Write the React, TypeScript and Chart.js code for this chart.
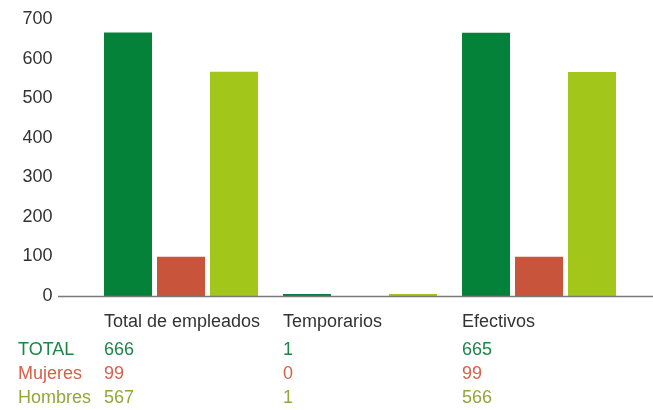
import React, { useEffect, useRef } from "react";
import { Chart, registerables } from "chart.js";

Chart.register(...registerables);

const categories = ["Total de empleados", "Temporarios", "Efectivos"];
const seriesNames = ["TOTAL", "Mujeres", "Hombres"];
const totalValues = [666, 1, 665];
const mujeresValues = [99, 0, 99];
const hombresValues = [567, 1, 566];
const yTicks = [0, 100, 200, 300, 400, 500, 600, 700];

const barColors = ["#048239", "#C9543C", "#A3C61A"];
const textColors = ["#1D8548", "#D6614B", "#8FA936"];
const FONT = "'Liberation Sans', Arial, Helvetica, sans-serif";

const tablePlugin = {
  id: "tablePlugin",
  afterDatasetsDraw(chart: any) {
    const ctx = chart.ctx;
    const yScale = chart.scales.y;
    const y0 = yScale.getPixelForValue(0);
    ctx.save();
    ctx.strokeStyle = "#7a7a7a";
    ctx.lineWidth = 1.5;
    ctx.beginPath();
    ctx.moveTo(58, y0 + 0.6);
    ctx.lineTo(653, y0 + 0.6);
    ctx.stroke();

    const meta = chart.getDatasetMeta(0);
    const colX = categories.map((_, i) => {
      const el = meta.data[i];
      return el.x - el.width / 2;
    });
    const allSeries = [totalValues, mujeresValues, hombresValues];
    ctx.font = `18px ${FONT}`;
    ctx.textBaseline = "middle";
    ctx.textAlign = "left";
    ctx.fillStyle = "#333333";
    categories.forEach((c, i) => ctx.fillText(c, colX[i], y0 + 26));
    seriesNames.forEach((name, r) => {
      const y = y0 + 54 + r * 24;
      ctx.fillStyle = textColors[r];
      ctx.fillText(name, 18, y);
      allSeries[r].forEach((v, i) => ctx.fillText(String(v), colX[i], y));
    });
    ctx.restore();
  },
};

export default function App() {
  const ref = useRef<HTMLCanvasElement | null>(null);
  useEffect(() => {
    document.body.style.margin = "0";
    if (!ref.current) return;
    const chart = new Chart(ref.current, {
      type: "bar",
      data: {
        labels: categories,
        datasets: [totalValues, mujeresValues, hombresValues].map((d, i) => ({
          label: seriesNames[i],
          data: d,
          backgroundColor: barColors[i],
          borderWidth: 0,
          categoryPercentage: 0.888,
          barPercentage: 0.906,
          minBarLength: i === 1 ? 0 : 2,
        })),
      },
      options: {
        responsive: false,
        animation: false,
        devicePixelRatio: 1,
        layout: { padding: { left: 0, right: 24.5, top: 19, bottom: 114 } },
        plugins: { legend: { display: false }, tooltip: { enabled: false } },
        scales: {
          x: { display: false, offset: true },
          y: {
            min: 0,
            max: 700,
            afterFit: (s: any) => {
              s.width = 91.5;
              s.paddingTop = 10;
              s.paddingBottom = 10;
            },
            afterBuildTicks: (s: any) => {
              s.ticks = yTicks.map((v) => ({ value: v }));
            },
            grid: { display: false, drawTicks: false },
            border: { display: false },
            ticks: {
              padding: 39,
              color: "#333333",
              font: { family: FONT, size: 18 },
            },
          },
        },
      },
      plugins: [tablePlugin],
    });
    return () => chart.destroy();
  }, []);
  return <canvas ref={ref} width={653} height={410} style={{ display: "block" }} />;
}
